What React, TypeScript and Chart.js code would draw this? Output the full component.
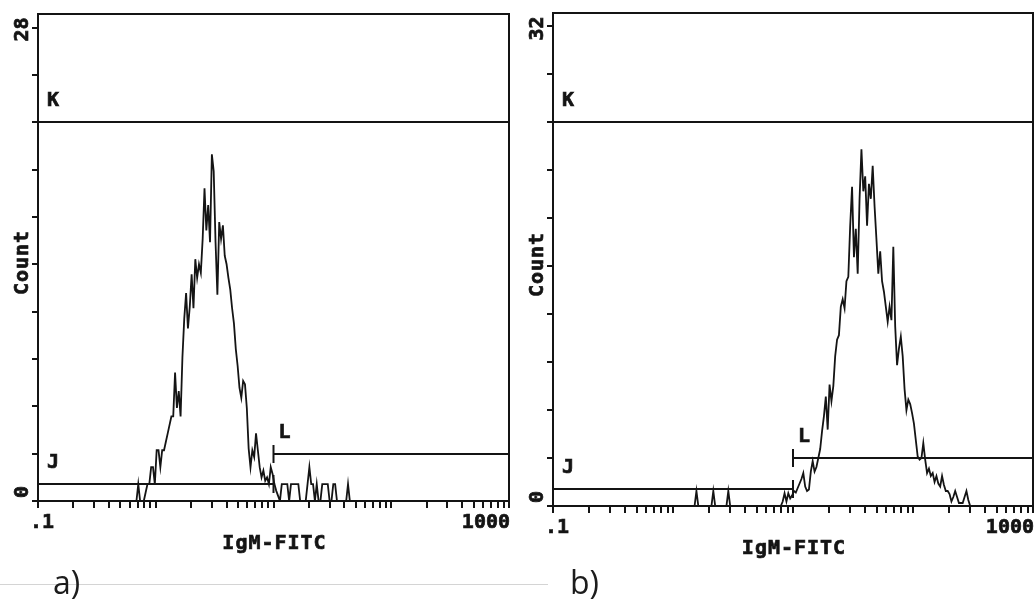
import { useEffect, useRef } from "react";
import { Chart, registerables } from "chart.js";

Chart.register(...registerables);

// Acquisition geometry: 256 log channels spanning four decades (0.1 .. 1000)
const CHANNELS = 256;
const LOG_MIN = -1;
const DECADES = 4;
const X_MIN = 0.1;
const X_MAX = 1000;

// Minor/major tick positions of the logarithmic IgM-FITC axis
const X_DECADE_STARTS = [0.1, 1, 10, 100];
const X_MULTIPLIERS = [1, 2, 3, 4, 5, 6, 7, 8, 9];
const X_TICK_LABELS = [".1", "1000"];

// Count axis: ten divisions, only bottom and top labelled
const Y_DIVISIONS = 10;
const yTopA = 28;
const yMaxA = 28.8;
const yTopB = 32;
const yMaxB = 32.9;

// Panel a histogram (counts per channel, first entry = channel 52)
const startChannelA = 52;
const countsA = [
  0, 0, 1, 0, 0, 0, 0.5, 1, 1, 2, 2, 1, 3, 3, 2, 3, 3, 3.5, 4, 4.5,
  5, 5, 7.6, 5.5, 6.5, 5, 8.5, 10.8, 12.3, 10.2, 11.5, 13.4, 11.4, 14.3, 13.2, 14, 13.5, 15.5, 18.5, 16,
  17.5, 15.3, 20.5, 19.5, 15.3, 12.2, 16.5, 15.5, 16.3, 14.5, 14, 13.2, 12.5, 11.4, 10.5, 9, 8, 6.7, 6.1, 7.1,
  6.9, 5.5, 3.1, 2, 3, 2.6, 4, 3, 2, 1.4, 1.8, 1.2, 1.4, 1, 2, 1.6, 1, 0.6, 0.3, 0,
  1, 1, 1, 1, 0, 1, 1, 1, 1, 1, 0, 0, 0, 0, 1, 2, 1, 1, 0, 1,
  0, 0, 1, 1, 1, 1, 0, 0, 1, 1, 0, 0, 0, 0, 0, 0, 1, 0,
];

// Panel b histogram (counts per channel, first entry = channel 74)
const startChannelB = 74;
const countsB = [
  0, 0, 1, 0, 0, 0, 0, 0, 0, 0, 0, 1, 0, 0, 0, 0, 0, 0, 0, 1,
  0, 0, 0, 0, 0, 0, 0, 0, 0, 0, 0, 0, 0, 0, 0, 0, 0, 0, 0, 0,
  0, 0, 0, 0, 0, 0, 0, 0, 0.3, 0.85, 0.3, 0.85, 0.5, 0.7, 1.0, 0.9, 1.2, 1.5, 1.8, 2.2,
  1.3, 1.0, 1.1, 2.3, 3.0, 2.3, 2.6, 3.2, 3.8, 5.0, 6.0, 7.3, 5.1, 8.1, 7.0, 8.0, 10.0, 11.1, 11.4, 13.3,
  13.8, 13.2, 15.0, 15.3, 18.7, 21.3, 16.6, 18.5, 15.5, 20.5, 23.8, 21.0, 22.0, 18.7, 21.5, 20.5, 22.7, 20.0, 17.8, 15.5,
  17.0, 15.0, 14.3, 13.3, 12.3, 13.3, 12.4, 17.3, 12.0, 9.4, 10.5, 11.3, 10.0, 7.8, 6.4, 7.1, 6.8, 6.2, 5.5, 4.4,
  3.3, 3.1, 3.2, 4.2, 3.1, 2.2, 2.5, 2.0, 2.2, 1.6, 2.0, 1.5, 1.3, 2.0, 1.4, 1.0, 1.0, 0.8, 0.3, 0.6,
  1.0, 0.6, 0.2, 0.2, 0.2, 0.6, 1.0, 0.4, 0,
];

// Analysis gates (markers) K, J, L
const gateNames = ["K", "J", "L"];
const gateFrom = [0.1, 0.1, 10];
const gateTo = [1000, 10, 1000];
const gateLevelA = [22.4, 0.98, 2.75];
const gateLevelB = [25.6, 1.12, 3.2];

const X_TITLE = "IgM-FITC";
const Y_TITLE = "Count";

const INK = "#141414";
const MONO = '"DejaVu Sans Mono", "Liberation Mono", monospace';

const channelValue = (ch: number) => 10 ** (LOG_MIN + ((ch + 0.5) * DECADES) / CHANNELS);

const toPoints = (start: number, counts: number[]) =>
  counts.map((c, i) => ({ x: channelValue(start + i), y: c }));

const xTickValues = [
  ...X_DECADE_STARTS.flatMap((d) => X_MULTIPLIERS.map((m) => d * m)),
  X_MAX,
];

type PanelSpec = {
  key: string;
  left: number;
  width: number;
  height: number;
  padding: { left: number; top: number; right: number; bottom: number };
  start: number;
  counts: number[];
  yTop: number;
  yMax: number;
  gateLevels: number[];
};

// Heavy text like the cytometer's bitmap font: fill plus a thin outline
function inkText(ctx: CanvasRenderingContext2D, text: string, x: number, y: number) {
  ctx.fillText(text, x, y);
  ctx.lineWidth = 0.7;
  ctx.strokeText(text, x, y);
}

function overlayPlugin(spec: PanelSpec) {
  return {
    id: "facsOverlay",
    afterDatasetsDraw(chart: any) {
      const { ctx, chartArea: a, scales } = chart;
      const xs = scales.x;
      const ys = scales.y;
      ctx.save();
      ctx.strokeStyle = INK;
      ctx.fillStyle = INK;
      ctx.lineCap = "butt";

      // frame
      ctx.lineWidth = 2;
      ctx.strokeRect(a.left, a.top, a.right - a.left, a.bottom - a.top);

      // tick marks
      ctx.beginPath();
      for (const v of xTickValues) {
        const px = Math.round(xs.getPixelForValue(v));
        ctx.moveTo(px, a.bottom);
        ctx.lineTo(px, a.bottom + 7);
      }
      for (let k = 0; k <= Y_DIVISIONS; k++) {
        const py = Math.round(ys.getPixelForValue((spec.yTop * k) / Y_DIVISIONS));
        ctx.moveTo(a.left - 6, py);
        ctx.lineTo(a.left, py);
      }
      ctx.stroke();

      // gates with end bars and letters
      ctx.font = `bold 20px ${MONO}`;
      ctx.textBaseline = "middle";
      ctx.textAlign = "center";
      gateNames.forEach((name, i) => {
        const x1 = xs.getPixelForValue(gateFrom[i]);
        const x2 = xs.getPixelForValue(gateTo[i]);
        const py = Math.round(ys.getPixelForValue(spec.gateLevels[i]));
        ctx.lineWidth = 2;
        ctx.beginPath();
        ctx.moveTo(x1, py);
        ctx.lineTo(x2, py);
        ctx.moveTo(x1, py - 9);
        ctx.lineTo(x1, py + 9);
        ctx.moveTo(x2, py - 9);
        ctx.lineTo(x2, py + 9);
        ctx.stroke();
        const offset = gateFrom[i] === X_MIN ? 15 : 11;
        inkText(ctx, name, x1 + offset, py - 21);
      });

      // x tick labels and title
      ctx.textAlign = "left";
      inkText(ctx, X_TICK_LABELS[0], a.left - 8, a.bottom + 22);
      ctx.textAlign = "right";
      inkText(ctx, X_TICK_LABELS[1], a.right + 1, a.bottom + 22);
      ctx.textAlign = "center";
      (ctx as any).letterSpacing = "1px";
      inkText(ctx, X_TITLE, (a.left + a.right) / 2 + 1, a.bottom + 43);

      // rotated y labels
      const rotated = (text: string, y: number, align: CanvasTextAlign) => {
        ctx.save();
        ctx.translate(a.left - 15, y);
        ctx.rotate(-Math.PI / 2);
        ctx.textAlign = align;
        inkText(ctx, text, 0, 0);
        ctx.restore();
      };
      (ctx as any).letterSpacing = "0px";
      rotated(String(spec.yTop), ys.getPixelForValue(spec.yTop) + 2, "center");
      rotated("0", a.bottom - 3, "left");
      (ctx as any).letterSpacing = "1px";
      rotated(Y_TITLE, (a.top + a.bottom) / 2 + 5, "center");
      ctx.restore();
    },
  };
}

const panelA: PanelSpec = {
  key: "a",
  left: 0,
  width: 515,
  height: 565,
  padding: { left: 38, top: 14, right: 6, bottom: 64 },
  start: startChannelA,
  counts: countsA,
  yTop: yTopA,
  yMax: yMaxA,
  gateLevels: gateLevelA,
};

const panelB: PanelSpec = {
  key: "b",
  left: 515,
  width: 520,
  height: 565,
  padding: { left: 38, top: 13, right: 2, bottom: 59 },
  start: startChannelB,
  counts: countsB,
  yTop: yTopB,
  yMax: yMaxB,
  gateLevels: gateLevelB,
};

function FacsPanel({ spec }: { spec: PanelSpec }) {
  const ref = useRef<HTMLCanvasElement>(null);
  useEffect(() => {
    if (!ref.current) return;
    const chart = new Chart(ref.current, {
      type: "line",
      data: {
        datasets: [
          {
            data: toPoints(spec.start, spec.counts),
            borderColor: INK,
            borderWidth: 1.8,
            pointRadius: 0,
            tension: 0,
            fill: false,
          },
        ],
      },
      options: {
        responsive: false,
        animation: false,
        devicePixelRatio: 1,
        events: [],
        layout: { padding: spec.padding },
        plugins: { legend: { display: false }, tooltip: { enabled: false } },
        scales: {
          x: { type: "logarithmic", min: X_MIN, max: X_MAX, display: false },
          y: { type: "linear", min: 0, max: spec.yMax, display: false },
        },
      },
      plugins: [overlayPlugin(spec)],
    } as any);
    return () => chart.destroy();
  }, [spec]);
  return (
    <canvas
      ref={ref}
      width={spec.width}
      height={spec.height}
      style={{
        position: "absolute",
        left: spec.left,
        top: 0,
        width: spec.width,
        height: spec.height,
      }}
    />
  );
}

const captionStyle = {
  position: "absolute" as const,
  top: 566,
  font: '32px "Open Sans", "Noto Sans", sans-serif',
  lineHeight: "32px",
  color: "#1c1c1c",
};

export default function App() {
  useEffect(() => {
    document.body.style.margin = "0";
    document.body.style.background = "#ffffff";
  }, []);
  return (
    <div
      style={{
        position: "relative",
        width: 1035,
        height: 608,
        background: "#ffffff",
        overflow: "hidden",
      }}
    >
      <FacsPanel spec={panelA} />
      <FacsPanel spec={panelB} />
      <div
        style={{
          position: "absolute",
          left: 0,
          top: 584,
          width: 548,
          height: 1,
          background: "#d4d4d4",
        }}
      />
      <div style={{ ...captionStyle, left: 53 }}>a)</div>
      <div style={{ ...captionStyle, left: 570 }}>b)</div>
    </div>
  );
}
